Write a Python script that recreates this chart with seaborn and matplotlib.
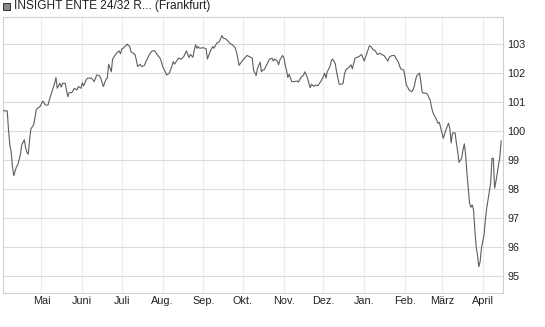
import matplotlib
matplotlib.use("Agg")
import matplotlib.pyplot as plt
import matplotlib.patches as mpatches
import seaborn as sns
import pandas as pd

title = "INSIGHT ENTE 24/32 R... (Frankfurt)"

dates = [
    "2024-04-02", "2024-04-05", "2024-04-06", "2024-04-07", "2024-04-08", "2024-04-09", "2024-04-10",
    "2024-04-12", "2024-04-13", "2024-04-15", "2024-04-16", "2024-04-18", "2024-04-19", "2024-04-20",
    "2024-04-21", "2024-04-22", "2024-04-23", "2024-04-25", "2024-04-26", "2024-04-27", "2024-04-28",
    "2024-04-30", "2024-05-02", "2024-05-04", "2024-05-06", "2024-05-07", "2024-05-09", "2024-05-11",
    "2024-05-12", "2024-05-13", "2024-05-15", "2024-05-16", "2024-05-17", "2024-05-19", "2024-05-21",
    "2024-05-22", "2024-05-24", "2024-05-26", "2024-05-28", "2024-05-29", "2024-05-31", "2024-06-01",
    "2024-06-02", "2024-06-04", "2024-06-05", "2024-06-08", "2024-06-10", "2024-06-12", "2024-06-14",
    "2024-06-15", "2024-06-17", "2024-06-19", "2024-06-20", "2024-06-21", "2024-06-23", "2024-06-24",
    "2024-06-26", "2024-06-27", "2024-06-29", "2024-06-30", "2024-07-01", "2024-07-02", "2024-07-05",
    "2024-07-07", "2024-07-08", "2024-07-11", "2024-07-12", "2024-07-13", "2024-07-15", "2024-07-16",
    "2024-07-18", "2024-07-20", "2024-07-22", "2024-07-24", "2024-07-26", "2024-07-28", "2024-07-30",
    "2024-07-31", "2024-08-01", "2024-08-03", "2024-08-04", "2024-08-06", "2024-08-08", "2024-08-09",
    "2024-08-10", "2024-08-11", "2024-08-13", "2024-08-15", "2024-08-17", "2024-08-19", "2024-08-21",
    "2024-08-22", "2024-08-24", "2024-08-25", "2024-08-26", "2024-08-27", "2024-08-28", "2024-08-29",
    "2024-09-01", "2024-09-03", "2024-09-04", "2024-09-06", "2024-09-08", "2024-09-09", "2024-09-11",
    "2024-09-13", "2024-09-15", "2024-09-16", "2024-09-18", "2024-09-20", "2024-09-21", "2024-09-23",
    "2024-09-25", "2024-09-26", "2024-09-27", "2024-09-28", "2024-09-30", "2024-10-01", "2024-10-04",
    "2024-10-06", "2024-10-08", "2024-10-09", "2024-10-11", "2024-10-12", "2024-10-14", "2024-10-15",
    "2024-10-16", "2024-10-17", "2024-10-19", "2024-10-21", "2024-10-23", "2024-10-24", "2024-10-25",
    "2024-10-27", "2024-10-28", "2024-10-29", "2024-10-31", "2024-11-01", "2024-11-02", "2024-11-03",
    "2024-11-04", "2024-11-05", "2024-11-07", "2024-11-09", "2024-11-11", "2024-11-12", "2024-11-14",
    "2024-11-16", "2024-11-17", "2024-11-19", "2024-11-20", "2024-11-21", "2024-11-22", "2024-11-24",
    "2024-11-25", "2024-11-27", "2024-11-28", "2024-11-29", "2024-12-01", "2024-12-02", "2024-12-03",
    "2024-12-04", "2024-12-06", "2024-12-07", "2024-12-08", "2024-12-10", "2024-12-11", "2024-12-12",
    "2024-12-13", "2024-12-15", "2024-12-16", "2024-12-17", "2024-12-18", "2024-12-20", "2024-12-21",
    "2024-12-22", "2024-12-23", "2024-12-25", "2024-12-26", "2024-12-28", "2024-12-30", "2025-01-01",
    "2025-01-03", "2025-01-05", "2025-01-06", "2025-01-08", "2025-01-09", "2025-01-11", "2025-01-13",
    "2025-01-14", "2025-01-16", "2025-01-17", "2025-01-19", "2025-01-20", "2025-01-22", "2025-01-24",
    "2025-01-25", "2025-01-27", "2025-01-28", "2025-01-29", "2025-01-31", "2025-02-01", "2025-02-02",
    "2025-02-03", "2025-02-04", "2025-02-06", "2025-02-07", "2025-02-08", "2025-02-09", "2025-02-10",
    "2025-02-12", "2025-02-13", "2025-02-14", "2025-02-15", "2025-02-17", "2025-02-18", "2025-02-20",
    "2025-02-21", "2025-02-22", "2025-02-23", "2025-02-25", "2025-02-26", "2025-02-27", "2025-02-28",
    "2025-03-02", "2025-03-03", "2025-03-04", "2025-03-06", "2025-03-07", "2025-03-08", "2025-03-09",
    "2025-03-11", "2025-03-12", "2025-03-13", "2025-03-14", "2025-03-16", "2025-03-17", "2025-03-18",
    "2025-03-19", "2025-03-20", "2025-03-21", "2025-03-22", "2025-03-23", "2025-03-24", "2025-03-25",
    "2025-03-26", "2025-03-27", "2025-03-28", "2025-03-29", "2025-03-30", "2025-03-31", "2025-04-02",
    "2025-04-03", "2025-04-04", "2025-04-05", "2025-04-07", "2025-04-08", "2025-04-09", "2025-04-10",
    "2025-04-11", "2025-04-12", "2025-04-13", "2025-04-14", "2025-04-15",
]

prices = [
    100.70, 100.70, 100.04, 99.52, 99.29, 98.77, 98.46,
    98.77, 98.83, 99.18, 99.52, 99.70, 99.42, 99.26,
    99.20, 99.70, 100.08, 100.21, 100.44, 100.73, 100.79,
    100.85, 101.04, 100.90, 100.90, 101.08, 101.36, 101.65,
    101.85, 101.48, 101.65, 101.52, 101.65, 101.65, 101.19,
    101.33, 101.33, 101.48, 101.42, 101.54, 101.48, 101.67,
    101.56, 101.77, 101.83, 101.83, 101.71, 101.94, 101.91,
    101.83, 101.54, 101.79, 101.83, 102.31, 102.05, 102.48,
    102.63, 102.69, 102.77, 102.67, 102.83, 102.86, 103.00,
    102.92, 102.74, 102.65, 102.46, 102.23, 102.31, 102.23,
    102.26, 102.46, 102.65, 102.77, 102.77, 102.63, 102.52,
    102.40, 102.23, 102.05, 101.94, 102.00, 102.23, 102.40,
    102.31, 102.38, 102.52, 102.48, 102.57, 102.77, 102.54,
    102.65, 102.55, 102.80, 102.98, 102.86, 102.92, 102.86,
    102.88, 102.84, 102.49, 102.74, 102.92, 102.86, 103.03,
    103.09, 103.30, 103.21, 103.18, 103.09, 103.03, 102.98,
    102.88, 102.74, 102.52, 102.27, 102.40, 102.46, 102.61,
    102.57, 102.52, 102.11, 101.92, 102.17, 102.38, 102.05,
    102.11, 102.11, 102.29, 102.48, 102.52, 102.42, 102.49,
    102.42, 102.29, 102.46, 102.61, 102.54, 102.29, 102.11,
    101.85, 101.96, 101.71, 101.71, 101.73, 101.69, 101.85,
    101.94, 102.05, 101.83, 101.65, 101.50, 101.62, 101.54,
    101.59, 101.57, 101.65, 101.71, 101.88, 102.00, 101.83,
    102.05, 102.23, 102.42, 102.49, 102.34, 102.05, 101.83,
    101.62, 101.62, 101.65, 101.96, 102.11, 102.19, 102.23,
    102.29, 102.15, 102.52, 102.54, 102.57, 102.65, 102.42,
    102.69, 102.95, 102.92, 102.80, 102.80, 102.65, 102.69,
    102.65, 102.61, 102.55, 102.42, 102.55, 102.61, 102.61,
    102.52, 102.38, 102.23, 102.14, 102.11, 101.88, 101.59,
    101.52, 101.42, 101.36, 101.42, 101.54, 101.77, 101.92,
    102.00, 101.71, 101.34, 101.31, 101.31, 101.27, 101.08,
    100.85, 100.67, 100.56, 100.39, 100.27, 100.30, 100.13,
    99.75, 99.90, 100.04, 100.27, 100.10, 99.59, 99.93,
    99.94, 99.58, 99.28, 98.92, 99.06, 99.35, 99.56,
    99.18, 98.55, 98.03, 97.51, 97.37, 97.45, 97.28,
    96.59, 96.01, 95.72, 95.32, 95.49, 95.96, 96.42,
    96.93, 97.34, 97.62, 98.20, 99.06, 99.06, 98.03,
    98.26, 98.55, 98.83, 99.12, 99.67,
]

month_starts = ["2024-05-01", "2024-06-01", "2024-07-01", "2024-08-01", "2024-09-01", "2024-10-01",
                "2024-11-01", "2024-12-01", "2025-01-01", "2025-02-01", "2025-03-01", "2025-04-01"]
month_labels = ["Mai", "Juni", "Juli", "Aug.", "Sep.", "Okt.", "Nov.", "Dez.", "Jan.", "Feb.", "März", "April"]
y_ticks = [95, 96, 97, 98, 99, 100, 101, 102, 103]

sns.set_theme(style="white")
plt.rcParams["font.family"] = ["Liberation Sans", "DejaVu Sans"]

df = pd.DataFrame({"date": pd.to_datetime(dates), "price": prices})

fig = plt.figure(figsize=(5.45, 3.27), dpi=100)
ax = fig.add_axes([0.00495, 0.1031, 0.9188, 0.8458])

ax.set_axisbelow(True)
for m in pd.to_datetime(month_starts):
    ax.axvline(m, color="#ececec", lw=0.8, zorder=0)
for t in y_ticks:
    ax.axhline(t, color="#dcdcdc", lw=0.8, zorder=0)

sns.lineplot(data=df, x="date", y="price", ax=ax, color="#5e5e5e", linewidth=0.8, zorder=3)

ax.set_xlim(pd.Timestamp("2024-04-01 14:00"), pd.Timestamp("2025-04-16 17:00"))
ax.set_ylim(94.40, 103.95)

ax.set_xticks(pd.to_datetime(month_starts))
ax.set_xticklabels(month_labels)
ax.set_yticks(y_ticks)
ax.set_yticklabels([str(t) for t in y_ticks])
ax.yaxis.tick_right()
ax.tick_params(axis="both", length=0, labelsize=7.8, colors="#222222")
ax.tick_params(axis="y", pad=2.6)
ax.tick_params(axis="x", pad=2.2)
ax.set_xlabel("")
ax.set_ylabel("")
ax.grid(False)
for s in ax.spines.values():
    s.set_color("#d0d0d0")
    s.set_linewidth(0.8)

fig.patches.append(mpatches.Rectangle((3.2 / 545, 1 - 9.6 / 327), 6.6 / 545, 6.6 / 327,
                                      transform=fig.transFigure, facecolor="#8a8a8a",
                                      edgecolor="#333333", linewidth=0.7))
fig.text(14 / 545, 1 - 6.2 / 327, title, fontsize=8.6, color="#222222", va="center", ha="left")

fig.savefig("out.png", dpi=100)
